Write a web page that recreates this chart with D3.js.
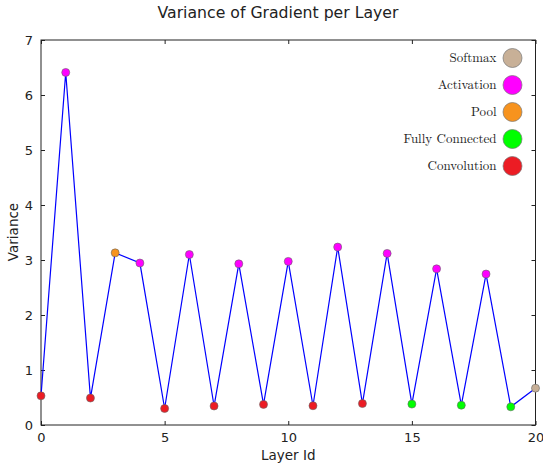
<!DOCTYPE html>
<html>
<head>
<meta charset="utf-8">
<script src="https://cdn.jsdelivr.net/npm/d3@7"></script>
<style>
  body { margin: 0; background: #fff; }
  text { font-family: 'DejaVu Sans', sans-serif; fill: #222; }
  .legend text { font-family: 'Latin Modern Roman', 'CMU Serif', 'Liberation Serif', serif; }
</style>
</head>
<body>
<div class="chart"></div>
<script>
// layer ids 0..20 and the variance
const layerIds = d3.range(0, 21);
const variances = [0.53, 6.41, 0.49, 3.13, 2.945, 0.30, 3.10, 0.345, 2.93, 0.375,
                   2.975, 0.35, 3.235, 0.39, 3.12, 0.38, 2.84, 0.36, 2.745, 0.33, 0.67];
const layerTypes = ['Convolution', 'Activation', 'Convolution', 'Pool', 'Activation',
                    'Convolution', 'Activation', 'Convolution', 'Activation', 'Convolution',
                    'Activation', 'Convolution', 'Activation', 'Convolution', 'Activation',
                    'Fully Connected', 'Activation', 'Fully Connected', 'Activation',
                    'Fully Connected', 'Softmax'];
// legend order top -> bottom
const legendTypes = ['Softmax', 'Activation', 'Pool', 'Fully Connected', 'Convolution'];
const typeColors = ['#c8b097', '#ff00ff', '#f7931e', '#00ff00', '#ec1c24'];
const xTicks = [0, 5, 10, 15, 20];
const yTicks = [0, 1, 2, 3, 4, 5, 6, 7];

const data = layerIds.map((id, i) => ({ id: id, value: variances[i], type: layerTypes[i] }));

const svg_width = 543, svg_height = 465;
const margin = { top: 40, right: 7.5, bottom: 40, left: 41 };
const width = svg_width - margin.left - margin.right;
const height = svg_height - margin.top - margin.bottom;

const svg = d3.select('.chart').append('svg')
    .attr('width', svg_width).attr('height', svg_height);
const g = svg.append('g').attr('transform', `translate(${margin.left},${margin.top})`);

const xScale = d3.scaleLinear().domain([0, 20]).range([0, width]);
const yScale = d3.scaleLinear().domain([0, 7]).range([height, 0]);
const color = d3.scaleOrdinal().domain(legendTypes).range(typeColors);

// axes, ticks point inward like matplotlib classic
const tickLen = 4;
const xAxis = g.append('g').attr('transform', `translate(0,${height})`)
    .call(d3.axisBottom(xScale).tickValues(xTicks).tickFormat(d3.format('d'))
        .tickSize(-tickLen).tickPadding(8).tickSizeOuter(0));
const xTop = g.append('g')
    .call(d3.axisTop(xScale).tickValues(xTicks).tickSize(-tickLen).tickFormat('').tickSizeOuter(0));
const yAxis = g.append('g')
    .call(d3.axisLeft(yScale).tickValues(yTicks).tickFormat(d3.format('d'))
        .tickSize(-tickLen).tickPadding(8).tickSizeOuter(0));
const yRight = g.append('g').attr('transform', `translate(${width},0)`)
    .call(d3.axisRight(yScale).tickValues(yTicks).tickSize(-tickLen).tickFormat('').tickSizeOuter(0));
[xAxis, xTop, yAxis, yRight].forEach(a => {
    a.select('.domain').remove();
    a.selectAll('line').attr('stroke', '#222');
    a.selectAll('text').style('font-size', '13px').attr('fill', '#222');
});

// frame
g.append('rect').attr('width', width).attr('height', height)
    .attr('fill', 'none').attr('stroke', '#222').attr('stroke-width', 1);

// line + markers
const lineGen = d3.line().x(d => xScale(d.id)).y(d => yScale(d.value));
g.append('path').datum(data)
    .attr('d', lineGen)
    .attr('fill', 'none').attr('stroke', '#0000ff').attr('stroke-width', 1.2);

g.selectAll('.pt').data(data).enter().append('circle')
    .attr('class', 'pt')
    .attr('cx', d => xScale(d.id)).attr('cy', d => yScale(d.value))
    .attr('r', 4)
    .attr('fill', d => color(d.type))
    .attr('stroke', '#666').attr('stroke-width', 0.6);

// legend
const legend = g.append('g').attr('class', 'legend')
    .attr('transform', `translate(${width - 23},18)`);
const items = legend.selectAll('.item').data(legendTypes).enter().append('g')
    .attr('transform', (d, i) => `translate(0,${i * 27})`);
items.append('circle').attr('r', 9.5)
    .attr('fill', d => color(d)).attr('stroke', '#777').attr('stroke-width', 0.7);
items.append('text').attr('x', -16).attr('dy', '0.32em')
    .style('text-anchor', 'end').style('font-size', '13px')
    .text(d => d);

// labels
svg.append('text').attr('x', 278).attr('y', 18)
    .style('text-anchor', 'middle').style('font-size', '15.7px')
    .text('Variance of Gradient per Layer');
svg.append('text').attr('x', margin.left + xScale(10)).attr('y', 460)
    .style('text-anchor', 'middle').style('font-size', '13.5px')
    .text('Layer Id');
svg.append('text').attr('transform', 'translate(18,232) rotate(-90)')
    .style('text-anchor', 'middle').style('font-size', '13.5px')
    .text('Variance');
</script>
</body>
</html>
